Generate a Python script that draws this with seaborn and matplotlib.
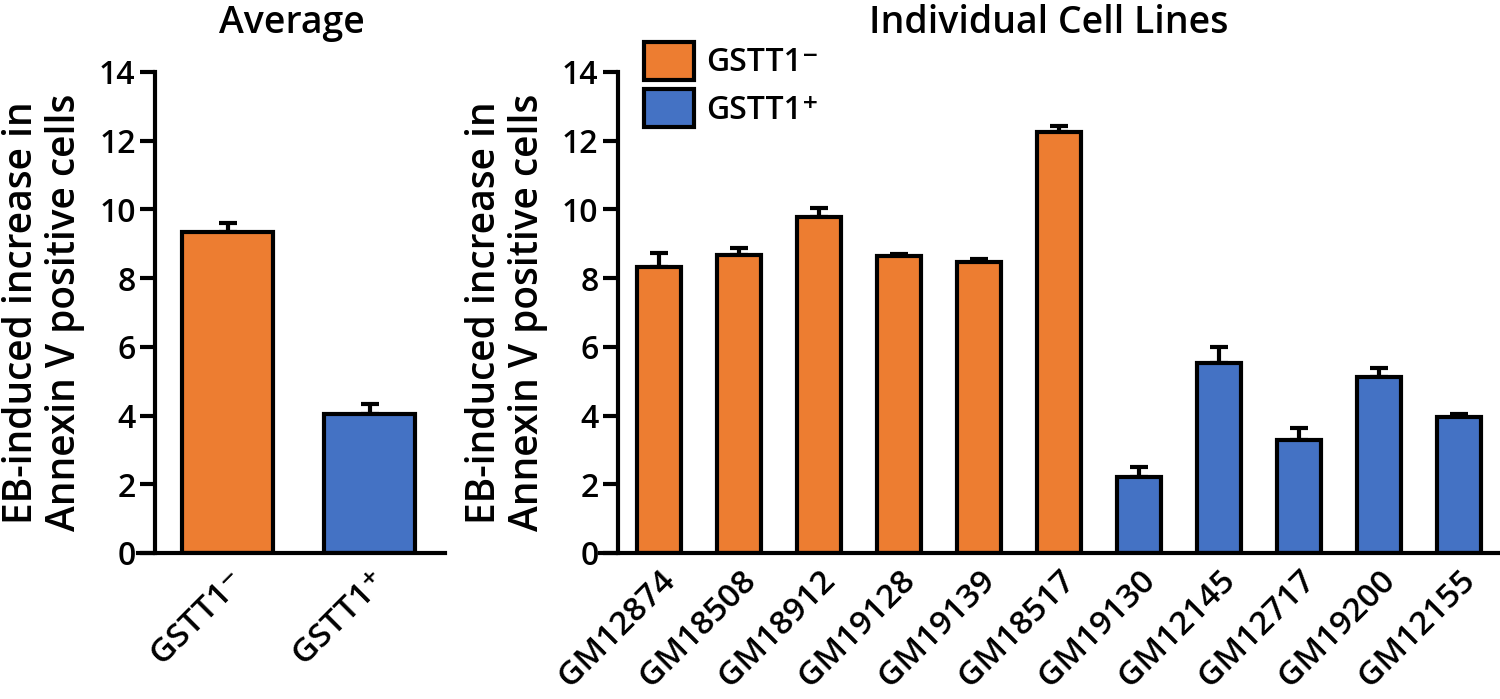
import numpy as np
import pandas as pd
import matplotlib
matplotlib.use("Agg")
import matplotlib.pyplot as plt
import seaborn as sns
from matplotlib.patches import Patch

# average panel
avg_groups = ["GSTT1\u207b", "GSTT1\u207a"]
avg_values = [9.35, 4.05]
avg_errors = [0.26, 0.30]

# individual cell lines
cell_lines = ["GM12874", "GM18508", "GM18912", "GM19128", "GM19139", "GM18517",
              "GM19130", "GM12145", "GM12717", "GM19200", "GM12155"]
cell_values = [8.33, 8.67, 9.77, 8.63, 8.48, 12.25, 2.22, 5.52, 3.29, 5.13, 3.95]
cell_errors = [0.40, 0.22, 0.27, 0.08, 0.07, 0.18, 0.27, 0.47, 0.36, 0.25, 0.09]
cell_genotype = ["GSTT1\u207b"] * 6 + ["GSTT1\u207a"] * 5

colors = {"GSTT1\u207b": "#ED7D31", "GSTT1\u207a": "#4472C4"}
ylabel = "EB-induced increase in\nAnnexin V positive cells"

sns.set_style("ticks")
plt.rcParams["font.family"] = ["Open Sans", "DejaVu Sans"]
plt.rcParams["font.weight"] = "semibold"
plt.rcParams["axes.titleweight"] = "semibold"
plt.rcParams["axes.labelweight"] = "semibold"
for key in ["text.color", "axes.labelcolor", "xtick.color", "ytick.color", "axes.edgecolor"]:
    plt.rcParams[key] = "black"
plt.rcParams["axes.linewidth"] = 3
plt.rcParams["ytick.major.width"] = 3
plt.rcParams["ytick.major.size"] = 11


def draw_panel(ax, df, xcol, values, errors, width, xlim, spine_x, title):
    sns.barplot(data=df, x=xcol, y="value", hue="genotype", palette=colors,
                dodge=False, width=width, saturation=1, edgecolor="black", linewidth=3,
                errorbar=None, legend=False, ax=ax)
    n = len(values)
    ax.errorbar(np.arange(n), values, yerr=[np.zeros(n), errors], fmt="none",
                ecolor="black", elinewidth=3, capsize=6.5, capthick=3, zorder=0.5)
    ax.set_xlim(*xlim)
    ax.set_ylim(0, 14)
    ax.set_yticks(range(0, 15, 2))
    ax.spines["left"].set_position(("data", spine_x))
    sns.despine(ax=ax)
    ax.tick_params(axis="x", length=0, labelsize=24, pad=8)
    ax.tick_params(axis="y", labelsize=23, pad=3)
    for lab in ax.get_xticklabels():
        lab.set_rotation(45)
        lab.set_ha("right")
        lab.set_rotation_mode("anchor")
    ax.set_xlabel("")
    ax.set_ylabel(ylabel, fontsize=28, labelpad=10, linespacing=1.1)
    ax.set_title(title, fontsize=27, pad=28)


fig = plt.figure(figsize=(15, 6.99), dpi=100)
ax1 = fig.add_axes([0.092, 0.2089, 0.2047, 0.6881])
ax2 = fig.add_axes([0.400, 0.2089, 0.5987, 0.6881])

df_avg = pd.DataFrame({"group": avg_groups, "value": avg_values, "genotype": avg_groups})
df_cells = pd.DataFrame({"cell_line": cell_lines, "value": cell_values, "genotype": cell_genotype})

draw_panel(ax1, df_avg, "group", avg_values, avg_errors, 0.64, (-0.63, 1.53), -0.51, "Average")
draw_panel(ax2, df_cells, "cell_line", cell_values, cell_errors, 0.55, (-0.7375, 10.49), -0.5125,
           "Individual Cell Lines")

handles = [Patch(facecolor=colors[g], edgecolor="black", linewidth=3, label=g) for g in avg_groups]
ax2.legend(handles=handles, loc="upper left", bbox_to_anchor=(0.049, 1.063), frameon=False,
           fontsize=23, handlelength=1.55, handleheight=1.45, labelspacing=0.3,
           handletextpad=0.4, borderpad=0, borderaxespad=0)

fig.savefig("out.png", dpi=100)
